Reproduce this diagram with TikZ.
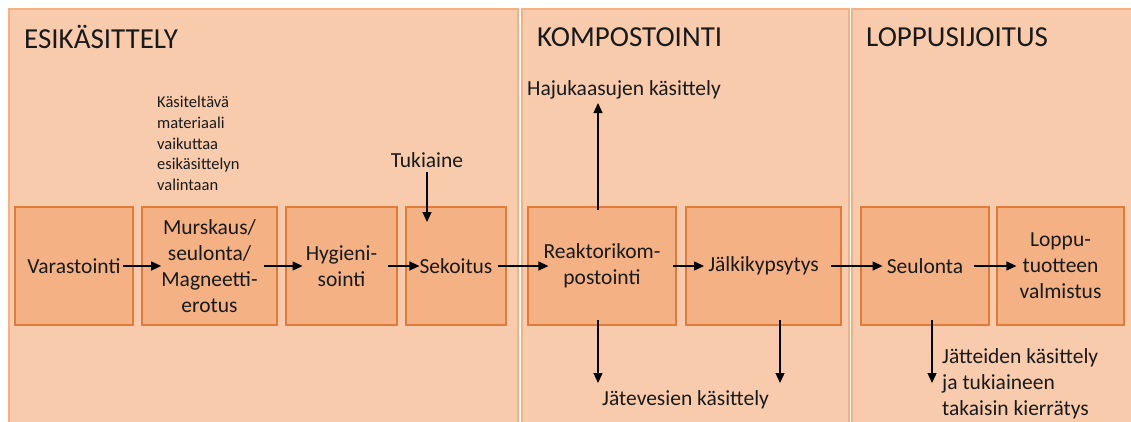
\documentclass[tikz,border=0pt]{standalone}
\usepackage{fontspec}
\setmainfont{Carlito}
\usetikzlibrary{arrows.meta,calc}
\definecolor{panelfill}{HTML}{F8CBAD}
\definecolor{panelline}{HTML}{F4B183}
\definecolor{boxfill}{HTML}{F4B183}
\definecolor{boxline}{HTML}{E07B39}
\definecolor{txt}{HTML}{1A1A1A}
\tikzset{
  panel/.style={fill=panelfill, draw=panelline, line width=1.2pt},
  title/.style={anchor=west, inner sep=0pt, text=txt, font=\fontsize{29}{34}\selectfont},
  procbox/.style={draw=boxline, fill=boxfill, line width=1.2pt, inner sep=0pt},
  lbl/.style={inner sep=0pt, align=center, text=txt, font=\fontsize{21.5}{26}\selectfont},
  note/.style={inner sep=0pt, align=left, text=txt, font=\fontsize{21.5}{26}\selectfont},
  smallnote/.style={inner sep=0pt, align=left, text=txt, font=\fontsize{16.5}{20.7}\selectfont},
  arr/.style={line width=1.3pt, draw=black, -{Triangle[length=10pt,width=9pt]}}
}
\begin{document}
\begin{tikzpicture}[x=1pt,y=-1pt]
\useasboundingbox (0,0) rectangle (1131,421);
\clip (0,0) rectangle (1131,421);
% panels
\draw[panel] (9,9) rectangle (518,428);
\draw[panel] (522,9) rectangle (849,428);
\draw[panel] (852,9) rectangle (1140,428);
\node[title] (h1) at (24,37) {ESIKÄSITTELY};
\node[title] (h2) at (537,37) {KOMPOSTOINTI};
\node[title] (h3) at (866,37) {LOPPUSIJOITUS};
% boxes
\node[procbox, minimum width=118pt, minimum height=118pt] (b1) at (74,266) {};
\node[procbox, minimum width=135pt, minimum height=118pt] (b2) at (209.5,266) {};
\node[procbox, minimum width=111pt, minimum height=118pt] (b3) at (341.5,266) {};
\node[procbox, minimum width=100pt, minimum height=118pt] (b4) at (456,266) {};
\node[procbox, minimum width=148pt, minimum height=118pt] (b5) at (602,266) {};
\node[procbox, minimum width=155pt, minimum height=118pt] (b6) at (763.5,266) {};
\node[procbox, minimum width=128pt, minimum height=118pt] (b7) at (925,266) {};
\node[procbox, minimum width=127pt, minimum height=118pt] (b8) at (1060.5,266) {};
% labels
\node[lbl] (t1) at (b1) {Varastointi};
\node[lbl] (t2) at (b2) {Murskaus/\\seulonta/\\Magneetti-\\erotus};
\node[lbl] (t3) at (b3) {Hygieni-\\sointi};
\node[lbl] (t4) at (b4) {Sekoitus};
\node[lbl] (t5) at (b5) {Reaktorikom-\\postointi};
\node[lbl] (t6) at (b6) {Jälkikypsytys};
\node[lbl] (t7) at (b7) {Seulonta};
\node[lbl] (t8) at (b8) {Loppu-\\tuotteen\\valmistus};
% side texts
\node[smallnote, anchor=west] (n1) at (157,143.5) {Käsiteltävä\\materiaali\\vaikuttaa\\esikäsittelyn\\valintaan};
\node[lbl] (tuki) at (427,160) {Tukiaine};
\node[note, anchor=west] (haju) at (527,90) {Hajukaasujen käsittely};
\node[note, anchor=west] (jatev) at (602,400) {Jätevesien käsittely};
\node[note, anchor=west] (jatt) at (942,384) {Jätteiden käsittely\\ja tukiaineen\\takaisin kierrätys};
% free ends
\coordinate (tukistart) at (427,172);
\coordinate (tukiend) at (427,222);
\coordinate (hajustart) at (598,210);
\coordinate (hajuend) at (598,103);
\coordinate (d1s) at (598,320);
\coordinate (d1e) at (598,383);
\coordinate (d2s) at (780,320);
\coordinate (d2e) at (780,383);
\coordinate (d3s) at (932,320);
\coordinate (d3e) at (932,383);
% main flow
\draw[arr] ([xshift=2pt]t1.east) -- (t2.west);
\draw[arr] ([xshift=6pt]t2.east |- b2.center) -- ([xshift=-3pt]t3.west |- b3.center);
\draw[arr] ([xshift=11pt]t3.east |- b3.center) -- (t4.west);
\draw[arr] ([xshift=5pt]t4.east) -- ([xshift=5pt]t5.west |- b5.center);
\draw[arr] ([xshift=12pt]t5.east |- b5.center) -- ([xshift=-4pt]t6.west);
\draw[arr] ([xshift=12pt]t6.east) -- ([xshift=-4pt]t7.west);
\draw[arr] ([xshift=11pt]t7.east) -- ([xshift=-3pt]t8.west |- b8.center);
% side flows
\draw[arr] (tukistart) -- (tukiend);
\draw[arr] (hajustart) -- (hajuend);
\draw[arr] (d1s) -- (d1e);
\draw[arr] (d2s) -- (d2e);
\draw[arr] (d3s) -- (d3e);
\end{tikzpicture}
\end{document}
